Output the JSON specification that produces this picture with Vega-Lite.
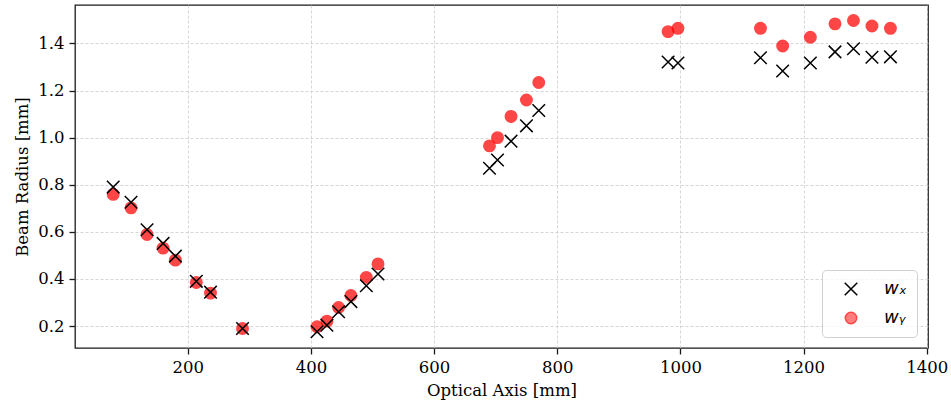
{
  "$schema": "https://vega.github.io/schema/vega-lite/v6.json",
  "width": 853,
  "height": 343,
  "autosize": {"type": "none"},
  "padding": {"left": 75, "top": 5, "right": 23, "bottom": 57},
  "background": "white",
  "data": {
    "values": [
      {"z": 79, "radius": 0.759, "series": "wy"},
      {"z": 108, "radius": 0.702, "series": "wy"},
      {"z": 134, "radius": 0.589, "series": "wy"},
      {"z": 160, "radius": 0.531, "series": "wy"},
      {"z": 180, "radius": 0.48, "series": "wy"},
      {"z": 214, "radius": 0.385, "series": "wy"},
      {"z": 237, "radius": 0.34, "series": "wy"},
      {"z": 289, "radius": 0.19, "series": "wy"},
      {"z": 410, "radius": 0.197, "series": "wy"},
      {"z": 426, "radius": 0.221, "series": "wy"},
      {"z": 445, "radius": 0.279, "series": "wy"},
      {"z": 465, "radius": 0.33, "series": "wy"},
      {"z": 490, "radius": 0.407, "series": "wy"},
      {"z": 509, "radius": 0.464, "series": "wy"},
      {"z": 690, "radius": 0.965, "series": "wy"},
      {"z": 703, "radius": 1.0, "series": "wy"},
      {"z": 725, "radius": 1.09, "series": "wy"},
      {"z": 750, "radius": 1.16, "series": "wy"},
      {"z": 770, "radius": 1.234, "series": "wy"},
      {"z": 980, "radius": 1.45, "series": "wy"},
      {"z": 996, "radius": 1.464, "series": "wy"},
      {"z": 1130, "radius": 1.464, "series": "wy"},
      {"z": 1166, "radius": 1.389, "series": "wy"},
      {"z": 1211, "radius": 1.426, "series": "wy"},
      {"z": 1251, "radius": 1.483, "series": "wy"},
      {"z": 1281, "radius": 1.497, "series": "wy"},
      {"z": 1311, "radius": 1.474, "series": "wy"},
      {"z": 1341, "radius": 1.464, "series": "wy"},
      {"z": 79, "radius": 0.79, "series": "wx"},
      {"z": 108, "radius": 0.726, "series": "wx"},
      {"z": 134, "radius": 0.609, "series": "wx"},
      {"z": 160, "radius": 0.551, "series": "wx"},
      {"z": 180, "radius": 0.497, "series": "wx"},
      {"z": 214, "radius": 0.39, "series": "wx"},
      {"z": 237, "radius": 0.344, "series": "wx"},
      {"z": 289, "radius": 0.19, "series": "wx"},
      {"z": 410, "radius": 0.176, "series": "wx"},
      {"z": 426, "radius": 0.204, "series": "wx"},
      {"z": 445, "radius": 0.261, "series": "wx"},
      {"z": 465, "radius": 0.304, "series": "wx"},
      {"z": 490, "radius": 0.371, "series": "wx"},
      {"z": 509, "radius": 0.421, "series": "wx"},
      {"z": 690, "radius": 0.87, "series": "wx"},
      {"z": 703, "radius": 0.905, "series": "wx"},
      {"z": 725, "radius": 0.985, "series": "wx"},
      {"z": 750, "radius": 1.05, "series": "wx"},
      {"z": 770, "radius": 1.115, "series": "wx"},
      {"z": 980, "radius": 1.321, "series": "wx"},
      {"z": 996, "radius": 1.317, "series": "wx"},
      {"z": 1130, "radius": 1.339, "series": "wx"},
      {"z": 1166, "radius": 1.283, "series": "wx"},
      {"z": 1211, "radius": 1.317, "series": "wx"},
      {"z": 1251, "radius": 1.364, "series": "wx"},
      {"z": 1281, "radius": 1.377, "series": "wx"},
      {"z": 1311, "radius": 1.341, "series": "wx"},
      {"z": 1341, "radius": 1.343, "series": "wx"}
    ]
  },
  "mark": {"type": "point", "filled": true, "size": 130, "strokeWidth": 1.5},
  "encoding": {
    "x": {
      "field": "z",
      "type": "quantitative",
      "scale": {"domain": [17, 1402], "nice": false, "zero": false},
      "axis": {
        "title": "Optical Axis [mm]",
        "values": [200, 400, 600, 800, 1000, 1200, 1400],
        "format": "d"
      }
    },
    "y": {
      "field": "radius",
      "type": "quantitative",
      "scale": {"domain": [0.107, 1.563], "nice": false, "zero": false},
      "axis": {
        "title": "Beam Radius [mm]",
        "values": [0.2, 0.4, 0.6, 0.8, 1.0, 1.2, 1.4],
        "format": ".1f"
      }
    },
    "shape": {
      "field": "series",
      "type": "nominal",
      "scale": {
        "domain": ["wx", "wy"],
        "range": ["M-1.1,-1.1L1.1,1.1M-1.1,1.1L1.1,-1.1", "circle"]
      },
      "legend": {
        "title": null,
        "orient": "bottom-right",
        "offset": 11,
        "labelExpr": "datum.value == 'wx' ? 'wₓ' : 'wᵧ'"
      }
    },
    "fill": {
      "field": "series",
      "type": "nominal",
      "scale": {"domain": ["wx", "wy"], "range": ["transparent", "#ff0000"]},
      "legend": {
        "title": null,
        "orient": "bottom-right",
        "offset": 11,
        "labelExpr": "datum.value == 'wx' ? 'wₓ' : 'wᵧ'"
      }
    },
    "stroke": {
      "field": "series",
      "type": "nominal",
      "scale": {"domain": ["wx", "wy"], "range": ["#000000", "#ff0000"]},
      "legend": {
        "title": null,
        "orient": "bottom-right",
        "offset": 11,
        "labelExpr": "datum.value == 'wx' ? 'wₓ' : 'wᵧ'"
      }
    },
    "opacity": {
      "field": "series",
      "type": "nominal",
      "scale": {"domain": ["wx", "wy"], "range": [1, 0.72]},
      "legend": {
        "title": null,
        "orient": "bottom-right",
        "offset": 11,
        "labelExpr": "datum.value == 'wx' ? 'wₓ' : 'wᵧ'"
      }
    }
  },
  "config": {
    "view": {"stroke": "#1a1a1a", "strokeWidth": 1.3},
    "axis": {
      "domain": false,
      "grid": true,
      "gridColor": "#cccccc",
      "gridDash": [3, 2],
      "gridWidth": 0.8,
      "tickColor": "#1a1a1a",
      "tickSize": 6,
      "tickWidth": 1.3,
      "labelFont": "DejaVu Serif",
      "labelFontSize": 16.5,
      "labelColor": "#000000",
      "labelPadding": 5,
      "labelFlush": false,
      "labelOverlap": false,
      "titleFont": "DejaVu Serif",
      "titleFontSize": 16.5,
      "titleFontWeight": "normal",
      "titleColor": "#000000",
      "titlePadding": 7
    },
    "legend": {
      "padding": 10,
      "symbolOffset": 10,
      "labelOffset": 24,
      "rowPadding": 10,
      "symbolSize": 130,
      "symbolStrokeWidth": 1.5,
      "labelFont": "DejaVu Sans",
      "labelFontStyle": "italic",
      "labelFontSize": 18,
      "labelColor": "#000000",
      "fillColor": "rgba(255,255,255,0.8)",
      "strokeColor": "#d0d0d0",
      "cornerRadius": 4
    }
  }
}
